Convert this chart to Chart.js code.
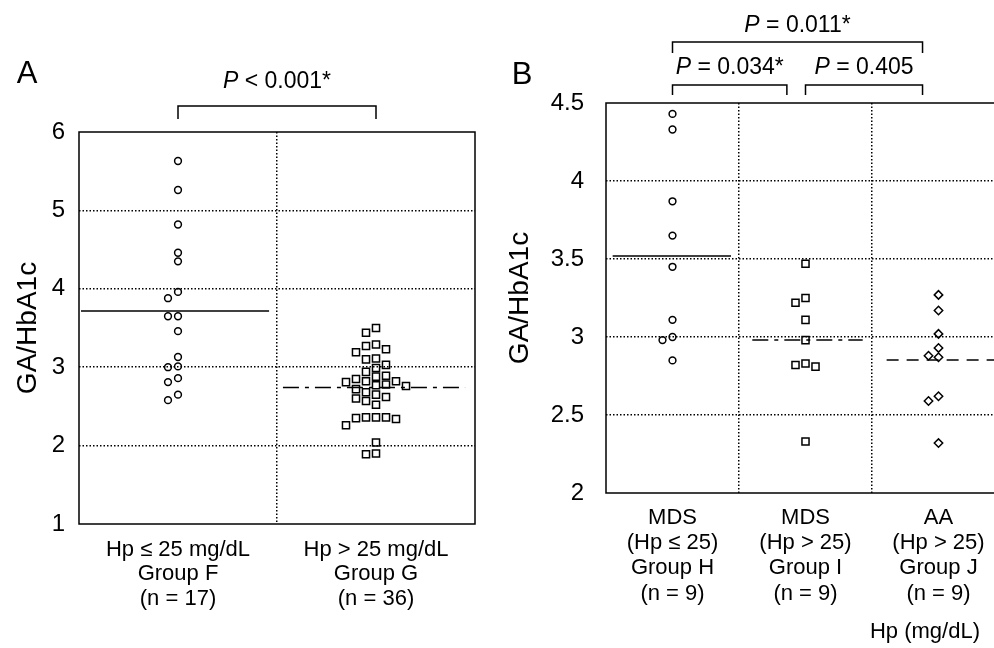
<!DOCTYPE html>
<html>
<head>
<meta charset="utf-8">
<script src="https://cdn.jsdelivr.net/npm/chart.js@4.4.1/dist/chart.umd.min.js"></script>
<style>
  body { margin: 0; background: #fff; overflow: hidden; width: 994px; height: 648px; }
  #painel_a { position: absolute; left: 0; top: 0; }
  #painel_b { position: absolute; left: 495px; top: 0; }
</style>
</head>
<body>
<canvas id="painel_a" width="490" height="648"></canvas>
<canvas id="painel_b" width="530" height="648"></canvas>
<script>
// panel A
var labels_a = [["Hp \u2264 25 mg/dL", "Group F", "(n = 17)"], ["Hp > 25 mg/dL", "Group G", "(n = 36)"]];
var group_f = [5.63, 5.26, 4.82, 4.46, 4.35, 3.96, 3.88, 3.65, 3.65, 3.46, 3.13, 3.01, 3.00, 2.86, 2.81, 2.65, 2.58];
var group_g = [3.50, 3.44, 3.29, 3.27, 3.23, 3.19, 3.11, 3.10, 3.03, 2.99, 2.94, 2.89, 2.88, 2.85, 2.82, 2.82, 2.81, 2.78,
               2.77, 2.76, 2.72, 2.68, 2.65, 2.62, 2.60, 2.57, 2.52, 2.36, 2.36, 2.36, 2.35, 2.34, 2.26, 2.04, 1.90, 1.89];
var ticks_a = [1, 2, 3, 4, 5, 6];
var p_a = ["< 0.001*"];

// panel B
var labels_b = [["MDS", "(Hp \u2264 25)", "Group H", "(n = 9)"], ["MDS", "(Hp > 25)", "Group I", "(n = 9)"], ["AA", "(Hp > 25)", "Group J", "(n = 9)"]];
var group_h = [4.43, 4.33, 3.87, 3.65, 3.45, 3.11, 3.00, 2.98, 2.85];
var group_i = [3.47, 3.25, 3.22, 3.11, 2.98, 2.83, 2.82, 2.81, 2.33];
var group_j = [3.27, 3.17, 3.02, 2.93, 2.88, 2.87, 2.62, 2.59, 2.32];
var ticks_b = [2, 2.5, 3, 3.5, 4, 4.5];
var p_b = ["= 0.034*", "= 0.405", "= 0.011*"];

var fonte = '"Liberation Sans", Arial, Helvetica, sans-serif';

function mean(v) {
    var s = 0;
    v.forEach(function (x) { s += x; });
    return s / v.length;
}

// simple beeswarm: points too close vertically go to side columns
function swarm(values, group, px_unit, px_column) {
    var step = 10 / px_column;
    var order = values.map(function (v, i) { return i; }).sort(function (a, b) { return values[b] - values[a]; });
    var placed = [];
    var points = [];
    order.forEach(function (i) {
        var v = values[i];
        var k = 0;
        for (var n = 0; n < 30; n++) {
            k = (n % 2 === 0) ? n / 2 : -(n + 1) / 2;
            var hit = placed.some(function (c) { return c.k === k && Math.abs(c.v - v) * px_unit < 8; });
            if (!hit) break;
        }
        placed.push({ k: k, v: v });
        points.push({ x: group + k * step, y: v });
    });
    return points;
}

function point_set(values, group, style, radius, px_unit, px_column) {
    return {
        data: swarm(values, group, px_unit, px_column),
        pointStyle: style,
        pointRadius: radius,
        pointHoverRadius: radius,
        pointBorderWidth: 1.5,
        pointBorderColor: '#000',
        pointBackgroundColor: 'rgba(0,0,0,0)',
        showLine: false,
        order: 2
    };
}

function mean_set(values, group, from, to, dash) {
    var m = mean(values);
    return {
        data: [{ x: group + from, y: m }, { x: group + to, y: m }],
        showLine: true,
        borderColor: '#000',
        borderWidth: 1.5,
        borderDash: dash,
        pointRadius: 0,
        order: 1
    };
}

function write_p(ctx, text, cx, cy) {
    ctx.font = 'italic 23px ' + fonte;
    var w1 = ctx.measureText('P ').width;
    ctx.font = '23px ' + fonte;
    var w2 = ctx.measureText(text).width;
    var x0 = cx - (w1 + w2) / 2;
    ctx.textAlign = 'left';
    ctx.textBaseline = 'middle';
    ctx.font = 'italic 23px ' + fonte;
    ctx.fillText('P ', x0, cy);
    ctx.font = '23px ' + fonte;
    ctx.fillText(text, x0 + w1, cy);
}

var moldura = {
    id: 'moldura',
    afterDraw: function (chart, args, opts) {
        var ctx = chart.ctx, a = chart.chartArea, x = chart.scales.x;
        ctx.save();
        ctx.strokeStyle = '#000';
        ctx.fillStyle = '#000';
        ctx.lineWidth = 1.5;
        ctx.strokeRect(a.left, a.top, a.right - a.left, a.bottom - a.top);
        ctx.font = '31px ' + fonte;
        ctx.textAlign = 'center';
        ctx.textBaseline = 'middle';
        ctx.fillText(opts.letter, opts.letter_x, opts.letter_y);
        opts.brackets.forEach(function (c) {
            var x1 = x.getPixelForValue(c.from), x2 = x.getPixelForValue(c.to);
            ctx.beginPath();
            ctx.moveTo(x1, c.base);
            ctx.lineTo(x1, c.top);
            ctx.lineTo(x2, c.top);
            ctx.lineTo(x2, c.base);
            ctx.stroke();
            write_p(ctx, c.text, (x1 + x2) / 2, c.text_y);
        });
        if (opts.footer) {
            ctx.font = '22px ' + fonte;
            ctx.textAlign = 'center';
            ctx.fillText(opts.footer, opts.footer_x, opts.footer_y);
        }
        ctx.restore();
    }
};

function options(cfg) {
    return {
        responsive: false,
        animation: false,
        layout: { padding: { top: cfg.top, right: cfg.right, left: 0, bottom: 0 } },
        plugins: {
            legend: { display: false },
            tooltip: { enabled: false },
            moldura: cfg.moldura
        },
        scales: {
            x: {
                type: 'linear',
                min: -0.5,
                max: cfg.groups.length - 0.5,
                afterBuildTicks: function (s) {
                    var t = [];
                    for (var i = 0; i < cfg.groups.length; i++) {
                        t.push({ value: i });
                        if (i < cfg.groups.length - 1) t.push({ value: i + 0.5 });
                    }
                    s.ticks = t;
                },
                afterFit: function (s) { s.height = cfg.x_height; },
                ticks: {
                    autoSkip: false,
                    maxRotation: 0,
                    padding: cfg.x_pad,
                    color: '#000',
                    font: { family: fonte, size: 22, lineHeight: cfg.x_line },
                    callback: function (v) { return Number.isInteger(v) ? cfg.groups[v] : ''; }
                },
                grid: {
                    drawTicks: false,
                    lineWidth: 1.5,
                    color: function (c) { return c.tick && !Number.isInteger(c.tick.value) ? '#000' : 'rgba(0,0,0,0)'; }
                },
                border: { display: false, dash: [1.5, 2] }
            },
            y: {
                min: cfg.ticks[0],
                max: cfg.ticks[cfg.ticks.length - 1],
                afterBuildTicks: function (s) {
                    s.ticks = cfg.ticks.map(function (v) { return { value: v }; });
                },
                afterFit: function (s) { s.width = cfg.y_width; },
                ticks: {
                    padding: cfg.y_pad,
                    color: '#000',
                    font: { family: fonte, size: 24 },
                    callback: function (v) { return String(v); }
                },
                title: {
                    display: true,
                    text: 'GA/HbA1c',
                    color: '#000',
                    font: { family: fonte, size: 28 },
                    padding: { top: cfg.title_pad, bottom: 0 }
                },
                grid: {
                    drawTicks: false,
                    lineWidth: 1.5,
                    color: function (c) {
                        var v = c.tick ? c.tick.value : null;
                        return (v === cfg.ticks[0] || v === cfg.ticks[cfg.ticks.length - 1]) ? 'rgba(0,0,0,0)' : '#000';
                    }
                },
                border: { display: false, dash: [1.5, 2] }
            }
        }
    };
}

function draw_a() {
    var ctx = document.getElementById('painel_a').getContext('2d');
    var px_unit = 392 / 5, px_col = 396 / 2;
    new Chart(ctx, {
        type: 'scatter',
        data: {
            datasets: [
                point_set(group_f, 0, 'circle', 3.4, px_unit, px_col),
                point_set(group_g, 1, 'rect', 5, px_unit, px_col),
                mean_set(group_f, 0, -0.49, 0.46, []),
                mean_set(group_g, 1, -0.47, 0.45, [16, 6, 4, 6])
            ]
        },
        options: options({
            top: 132, right: 15, x_height: 124, y_width: 79, x_pad: 14, y_pad: 14, title_pad: 11, x_line: 1.1,
            groups: labels_a, ticks: ticks_a,
            moldura: {
                letter: 'A', letter_x: 27, letter_y: 74,
                brackets: [{ from: 0, to: 1, top: 106, base: 119, text: p_a[0], text_y: 82 }]
            }
        }),
        plugins: [moldura]
    });
}

function draw_b() {
    var ctx = document.getElementById('painel_b').getContext('2d');
    var px_unit = 390 / 2.5, px_col = 399 / 3;
    new Chart(ctx, {
        type: 'scatter',
        data: {
            datasets: [
                point_set(group_h, 0, 'circle', 3.4, px_unit, px_col),
                point_set(group_i, 1, 'rect', 5, px_unit, px_col),
                point_set(group_j, 2, 'rectRot', 4.2, px_unit, px_col),
                mean_set(group_h, 0, -0.45, 0.44, []),
                mean_set(group_i, 1, -0.40, 0.43, [16, 6, 4, 6]),
                mean_set(group_j, 2, -0.39, 0.5, [12, 8])
            ]
        },
        options: options({
            top: 103, right: 20, x_height: 155, y_width: 111, x_pad: 12, y_pad: 22, title_pad: 8, x_line: 1.15,
            groups: labels_b, ticks: ticks_b,
            moldura: {
                letter: 'B', letter_x: 27, letter_y: 75,
                brackets: [
                    { from: 0, to: 0.86, top: 85, base: 95, text: p_b[0], text_y: 68 },
                    { from: 1, to: 1.88, top: 85, base: 95, text: p_b[1], text_y: 68 },
                    { from: 0, to: 1.88, top: 42, base: 53, text: p_b[2], text_y: 26 }
                ],
                footer: 'Hp (mg/dL)', footer_x: 430, footer_y: 632
            }
        }),
        plugins: [moldura]
    });
}

window.onload = function () {
    draw_a();
    draw_b();
};
</script>
</body>
</html>
